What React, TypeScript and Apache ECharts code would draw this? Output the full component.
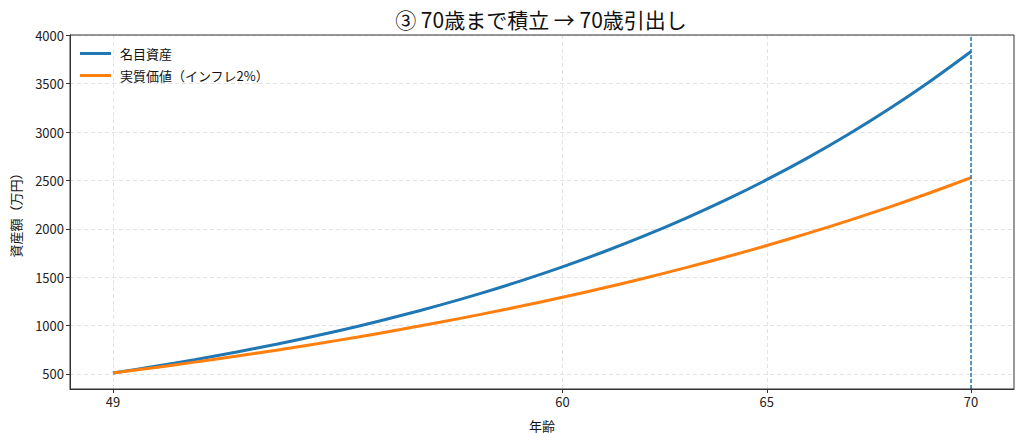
import React, { useEffect, useRef } from "react";
import * as echarts from "echarts";

const ages = [49, 50, 51, 52, 53, 54, 55, 56, 57, 58, 59, 60, 61, 62, 63, 64, 65, 66, 67, 68, 69, 70];
const nominal = [510, 575.9, 647.1, 723.9, 807.0, 896.6, 993.4, 1098.0, 1211.0, 1332.9, 1464.7, 1606.9, 1760.6, 1926.5, 2105.8, 2299.3, 2508.4, 2734.1, 2978.0, 3241.3, 3525.8, 3832.9];
const real = [510, 564.6, 622.0, 682.1, 745.5, 812.1, 882.1, 955.9, 1033.6, 1115.3, 1201.6, 1292.4, 1388.2, 1489.3, 1595.9, 1708.4, 1827.2, 1952.6, 2085.1, 2224.9, 2372.8, 2528.9];
const xTicks = [49, 60, 65, 70];
const yTicks = [500, 1000, 1500, 2000, 2500, 3000, 3500, 4000];
const withdrawAge = 70;
const titleText = "③ 70歳まで積立 → 70歳引出し";

const FONT = "'Noto Sans CJK JP', 'Noto Sans', sans-serif";

export default function App() {
  const ref = useRef<HTMLDivElement>(null);
  useEffect(() => {
    if (!ref.current) return;
    const chart = echarts.init(ref.current, undefined, { renderer: "svg" });
    const gridLine = { show: true, lineStyle: { color: "#e3e3e3", type: [4, 3], width: 1 } };
    chart.setOption({
      animation: false,
      textStyle: { fontFamily: FONT },
      graphic: [
        {
          type: "text",
          x: 541,
          y: 19,
          style: {
            text: titleText,
            font: "21px " + FONT,
            fill: "#111",
            textAlign: "center",
            textVerticalAlign: "middle",
          },
        },
        {
          type: "rect",
          z: 100,
          silent: true,
          shape: { x: 70, y: 35, width: 944, height: 354 },
          style: { fill: "none", stroke: "#333", lineWidth: 1 },
        },
      ],
      legend: {
        left: 80,
        top: 47,
        padding: 0,
        orient: "vertical",
        icon: "rect",
        itemWidth: 31,
        itemHeight: 3,
        itemGap: 9,
        textStyle: { fontFamily: FONT, fontSize: 13, color: "#111", padding: [0, 0, 0, 4] },
        data: ["名目資産", "実質価値（インフレ2%）"],
      },
      grid: {
        left: 70,
        right: 10,
        top: 35,
        bottom: 54,
        show: false,
        containLabel: false,
        outerBoundsMode: "none",
      },
      xAxis: {
        type: "value",
        min: 47.95,
        max: 71.05,
        name: "年齢",
        nameLocation: "middle",
        nameGap: 30,
        nameTextStyle: { fontFamily: FONT, fontSize: 13, color: "#111" },
        axisLine: { show: true, lineStyle: { color: "#333" } },
        axisTick: { show: true, length: 4, lineStyle: { color: "#333" }, customValues: xTicks },
        axisLabel: { customValues: xTicks, fontFamily: FONT, fontSize: 13, color: "#222", margin: 6 },
        splitLine: gridLine,
      },
      yAxis: {
        type: "value",
        min: 344,
        max: 4004,
        name: "資産額（万円）",
        nameLocation: "middle",
        nameGap: 48,
        nameTextStyle: { fontFamily: FONT, fontSize: 13, color: "#111" },
        axisLine: { show: true, lineStyle: { color: "#333" } },
        axisTick: { show: true, length: 4, lineStyle: { color: "#333" }, customValues: yTicks },
        axisLabel: {
          customValues: yTicks,
          formatter: (v: number) => String(v),
          fontFamily: FONT,
          fontSize: 13,
          color: "#222",
          margin: 6,
        },
        splitLine: gridLine,
      },
      series: [
        {
          name: "名目資産",
          type: "line",
          data: ages.map((a, i) => [a, nominal[i]]),
          smooth: 0.3,
          showSymbol: false,
          lineStyle: { color: "#1f77b4", width: 3 },
          itemStyle: { color: "#1f77b4" },
          markLine: {
            silent: true,
            symbol: "none",
            label: { show: false },
            lineStyle: { color: "#1f77b4", type: [4, 2], width: 1.5 },
            data: [{ xAxis: withdrawAge }],
          },
        },
        {
          name: "実質価値（インフレ2%）",
          type: "line",
          data: ages.map((a, i) => [a, real[i]]),
          smooth: 0.3,
          showSymbol: false,
          lineStyle: { color: "#ff7f0e", width: 3 },
          itemStyle: { color: "#ff7f0e" },
        },
      ],
    });
    return () => chart.dispose();
  }, []);
  return (
    <div
      ref={ref}
      style={{ position: "fixed", left: 0, top: 0, width: 1024, height: 443, background: "#fff" }}
    />
  );
}
